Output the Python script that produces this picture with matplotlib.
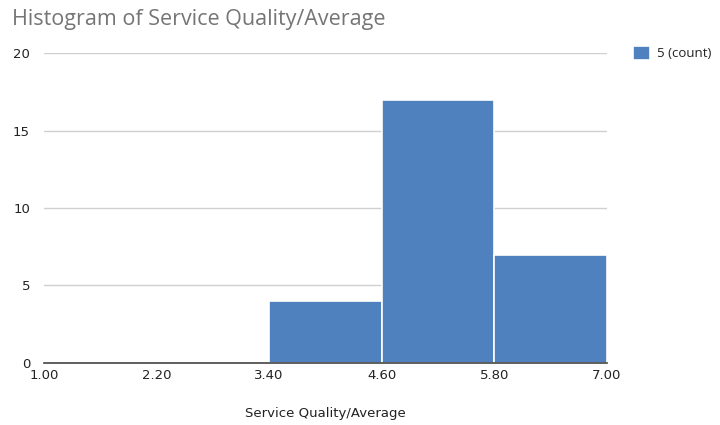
import matplotlib
matplotlib.use("Agg")
import matplotlib.pyplot as plt
from matplotlib import font_manager

bin_edges = [1.00, 2.20, 3.40, 4.60, 5.80, 7.00]
counts = [0, 0, 4, 17, 7]
tick_labels = ["1.00", "2.20", "3.40", "4.60", "5.80", "7.00"]
y_ticks = [0, 5, 10, 15, 20]
series_name = "5 (count)"

names = {f.name for f in font_manager.fontManager.ttflist}
narrow = "Liberation Sans Narrow" if "Liberation Sans Narrow" in names else "DejaVu Sans"

bar_color = "#4e81bd"

fig = plt.figure(figsize=(7.2, 4.25), dpi=100)
ax = fig.add_axes([0.061, 0.146, 0.782, 0.729])

lefts = bin_edges[:-1]
widths = [b - a for a, b in zip(bin_edges[:-1], bin_edges[1:])]
ax.bar(lefts, counts, width=widths, align="edge", color=bar_color,
       edgecolor="white", linewidth=1.2, zorder=3, label=series_name)

ax.set_xlim(bin_edges[0], bin_edges[-1])
ax.set_ylim(0, 20)
ax.set_xticks(bin_edges)
ax.set_xticklabels(tick_labels, fontfamily=narrow, fontsize=9.5, color="#222222")
ax.set_yticks(y_ticks)
ax.set_yticklabels([str(v) for v in y_ticks], fontfamily=narrow, fontsize=9.5, color="#222222")
ax.tick_params(axis="both", length=0, pad=4)
ax.tick_params(axis="y", pad=10)

ax.grid(axis="y", color="#d0d0d0", linewidth=1, zorder=0)
for side in ["top", "right", "left"]:
    ax.spines[side].set_visible(False)
ax.spines["bottom"].set_color("#444444")
ax.spines["bottom"].set_linewidth(1.2)
ax.spines["bottom"].set_zorder(4)

ax.set_xlabel("Service Quality/Average", fontfamily=narrow, fontsize=9.5,
              color="#222222", labelpad=18)

fig.text(0.016, 0.955, "Histogram of Service Quality/Average", fontfamily="Open Sans",
         fontsize=15.5, color="#757575", va="center", ha="left")

leg = fig.legend(loc="upper left", bbox_to_anchor=(0.872, 0.905), frameon=False,
                 prop={"family": "Open Sans", "size": 9.5}, handlelength=1.3,
                 handleheight=1.3, handletextpad=0.5, borderaxespad=0)
for t in leg.get_texts():
    t.set_color("#222222")

fig.savefig("out.png", dpi=100)
